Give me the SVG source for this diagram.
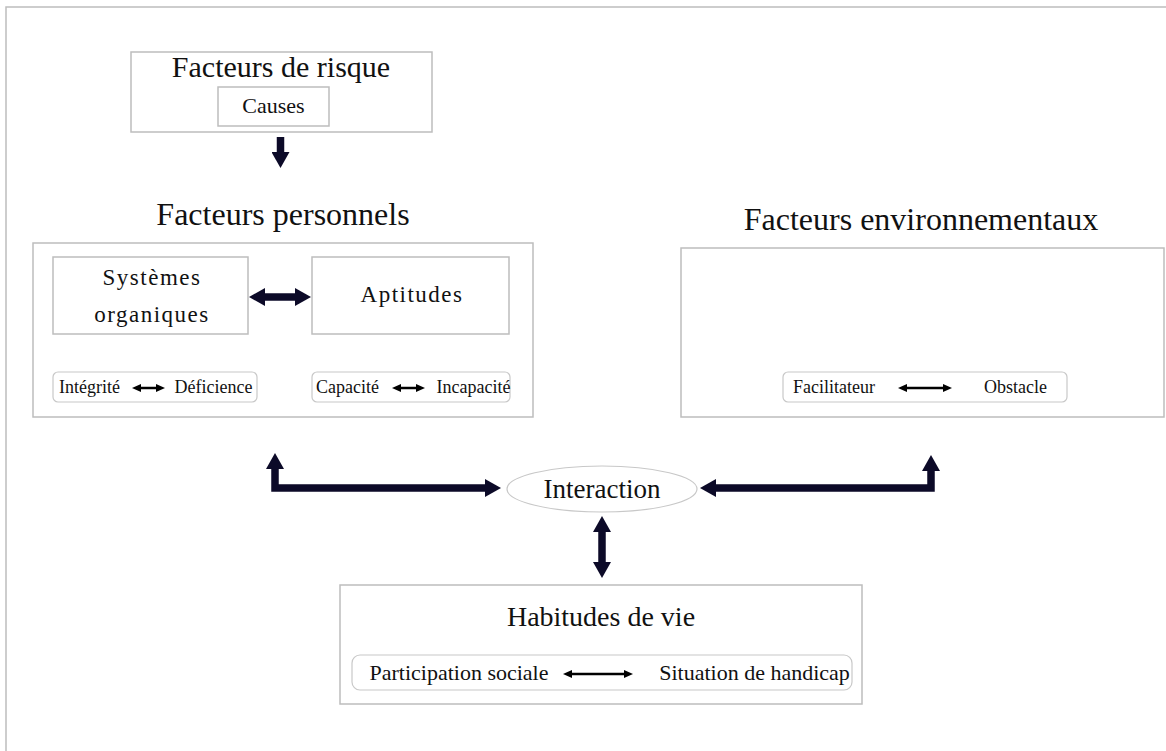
<svg xmlns="http://www.w3.org/2000/svg" width="1166" height="751" viewBox="0 0 1166 751">
<style>
text{font-family:"Liberation Serif","Times New Roman",serif;fill:#111;text-anchor:middle}
.box{fill:#fff;stroke:#bdbdbd;stroke-width:1.5}
.rbox{fill:#fff;stroke:#c8c8c8;stroke-width:1.2}
.big{fill:none;stroke:#0c0a28;stroke-width:7.5;stroke-linejoin:miter}
.small{fill:none;stroke:#000;stroke-width:2.5}
.t18{font-size:18px}
.t22{font-size:22px}
.sp{font-size:23px;letter-spacing:1.5px}
</style>
<defs>
<marker id="bh" markerUnits="userSpaceOnUse" markerWidth="16" markerHeight="18" refX="0" refY="9" orient="auto-start-reverse" viewBox="0 0 16 18">
<path d="M0,0 L16,9 L0,18 z" fill="#0c0a28"/>
</marker>
<marker id="sh" markerUnits="userSpaceOnUse" markerWidth="9" markerHeight="8" refX="0" refY="4" orient="auto-start-reverse" viewBox="0 0 9 8">
<path d="M0,0 L9,4 L0,8 z" fill="#000"/>
</marker>
</defs>
<rect x="6" y="7" width="1200" height="800" fill="#fff" stroke="#bdbdbd" stroke-width="1.5"/>

<g id="risque">
<rect class="box" x="131" y="52" width="301" height="80"/>
<text x="281" y="77" style="font-size:30px">Facteurs de risque</text>
<rect class="box" x="218" y="87" width="111" height="39"/>
<text x="273.5" y="113" class="t22">Causes</text>
</g>

<g id="personnels">
<text x="283" y="225" style="font-size:32px">Facteurs personnels</text>
<rect class="box" x="33" y="243" width="500" height="174"/>
<g id="systemes">
<rect class="box" x="53" y="257" width="195" height="77"/>
<text x="152" y="285" class="sp">Systèmes</text>
<text x="152" y="322" class="sp">organiques</text>
</g>
<g id="aptitudes">
<rect class="box" x="312" y="257" width="197" height="77"/>
<text x="412" y="302" class="sp">Aptitudes</text>
</g>
<g id="integrite">
<rect class="rbox" x="53" y="372" width="204" height="30" rx="5"/>
<text x="89.5" y="393" class="t18">Intégrité</text>
<text x="213.5" y="393" class="t18">Déficience</text>
</g>
<g id="capacite">
<rect class="rbox" x="312" y="372" width="198" height="30" rx="5"/>
<text x="347.5" y="393" class="t18">Capacité</text>
<text x="473.5" y="393" class="t18">Incapacité</text>
</g>
</g>

<g id="environnementaux">
<text x="921" y="230" style="font-size:32px">Facteurs environnementaux</text>
<rect class="box" x="681" y="248" width="483" height="169"/>
<g id="facilitateur">
<rect class="rbox" x="783" y="372" width="284" height="30" rx="5"/>
<text x="834" y="393" class="t18">Facilitateur</text>
<text x="1015.5" y="393" class="t18">Obstacle</text>
</g>
</g>

<g id="interaction">
<ellipse cx="602" cy="489" rx="95" ry="23" fill="#fff" stroke="#c8c8c8" stroke-width="1.2"/>
<text x="602" y="498" style="font-size:27px">Interaction</text>
</g>

<g id="habitudes">
<rect class="box" x="340" y="585" width="522" height="119"/>
<text x="601" y="626" style="font-size:28px">Habitudes de vie</text>
<rect class="rbox" x="352" y="655" width="500" height="35" rx="8"/>
<text x="459" y="680" class="t22">Participation sociale</text>
<text x="754.5" y="680" class="t22">Situation de handicap</text>
</g>

<g id="connectors">
<path class="big" d="M280.5,137 V152" marker-end="url(#bh)"/>
<path class="big" d="M265,297 H295" marker-start="url(#bh)" marker-end="url(#bh)"/>
<path class="big" d="M275,469 V488 H485" marker-start="url(#bh)" marker-end="url(#bh)"/>
<path class="big" d="M716,488 H931 V471" marker-start="url(#bh)" marker-end="url(#bh)"/>
<path class="big" d="M602,532 V562" marker-start="url(#bh)" marker-end="url(#bh)"/>
<path class="small" d="M141,388 H156" marker-start="url(#sh)" marker-end="url(#sh)"/>
<path class="small" d="M401,388 H416" marker-start="url(#sh)" marker-end="url(#sh)"/>
<path class="small" d="M907,388 H943" marker-start="url(#sh)" marker-end="url(#sh)"/>
<path class="small" d="M572,674 H624" marker-start="url(#sh)" marker-end="url(#sh)"/>
</g>
</svg>
